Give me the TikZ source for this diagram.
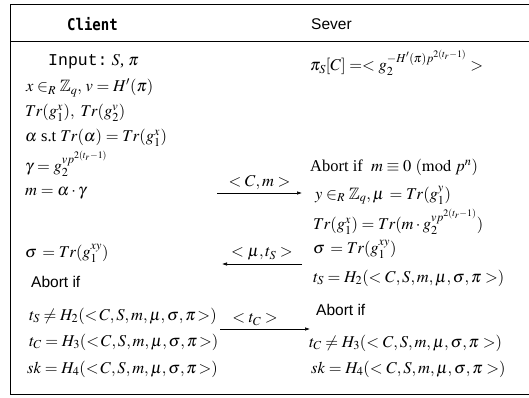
\documentclass[tikz,border=0pt]{standalone}
\usepackage{amssymb}
\usepackage{mathptmx}
\usepackage[no-math]{fontspec}
\setmainfont{Liberation Serif}
\setsansfont{Liberation Sans}
\setmonofont{Liberation Mono}
\newfontfamily\hdrmono{DejaVu Sans Mono}
\usetikzlibrary{arrows.meta}
\begin{document}
\begin{tikzpicture}[x=1pt,y=-1pt,
  txt/.style={anchor=west,inner sep=0pt,font=\fontsize{16.5}{18}\selectfont},
  sans/.style={anchor=west,inner sep=0pt,font=\fontsize{15.5}{18}\sffamily},
  frame/.style={line width=0.8pt},
  msg/.style={line width=0.6pt,-{Latex[length=5pt,width=3.5pt]}},
  lab/.style={anchor=south,inner sep=3pt,font=\fontsize{16.5}{18}\selectfont}]
\useasboundingbox (0,0) rectangle (529,397);
% frame
\draw[frame] (10,4) -- (529,4);
\draw[frame] (10,41) -- (529,41);
\draw[frame] (10,394) -- (529,394);
\draw[frame] (10,4) -- (10,394);
% headers
\node[anchor=west,inner sep=0pt,font=\fontsize{14}{16}\hdrmono\bfseries] (client) at (67,24) {\scalebox{1}[1.15]{Client}};
\node[sans] (server) at (311,24) {Sever};
% client column
\node[txt] (c1) at (48,62) {\ttfamily Input:\rmfamily\ $S$, $\pi$};
\node[txt] (c2) at (26,88) {$x\in_R \mathbb{Z}_q,\, v=H'(\pi)$};
\node[txt] (c3) at (25,113) {$Tr(g_1^{x}),\ Tr(g_2^{v})$};
\node[txt] (c4) at (25,138) {$\alpha$ s.t $Tr(\alpha)=Tr(g_1^{x})$};
\node[txt] (c5) at (25,164) {$\gamma=g_2^{vp^{\scriptscriptstyle 2(t_r-1)}}$};
\node[txt] (c6) at (25,193) {$m=\alpha\cdot\gamma$};
\node[txt] (c7) at (25,253) {$\sigma\,=Tr(g_1^{xy})$};
\node[sans] (c8) at (31,282) {Abort if};
\node[txt] (c9) at (29,316) {$t_S\neq H_2(<\!C,S,m,\mu,\sigma,\pi\!>)$};
\node[txt] (c10) at (29,342) {$t_C=H_3(<\!C,S,m,\mu,\sigma,\pi\!>)$};
\node[txt] (c11) at (27,369) {$sk=H_4(<\!C,S,m,\mu,\sigma,\pi\!>)$};
% server column
\node[txt] (s1) at (310,63) {$\pi_S[C]=<g_2^{-H'(\pi)p^{\scriptscriptstyle 2(t_r-1)}}>$};
\node[txt] (s2) at (310,167) {Abort if \ $m\equiv 0\ (\mathrm{mod}\ p^{n})$};
\node[txt] (s3) at (315,195) {$y\in_R \mathbb{Z}_q,\mu\,=Tr(g_1^{y})$};
\node[txt] (s4) at (313,222) {$Tr(g_1^{x})=Tr(m\cdot g_2^{vp^{\scriptscriptstyle 2(t_r-1)}})$};
\node[txt] (s5) at (313,249) {$\sigma\,=Tr(g_1^{xy})$};
\node[txt] (s6) at (313,278) {$t_S=H_2(<C,S,m,\mu,\sigma,\pi>)$};
\node[sans] (s7) at (316,310) {Abort if};
\node[txt] (s8) at (309,343) {$t_C\neq H_3(<C,S,m,\mu,\sigma,\pi>)$};
\node[txt] (s9) at (311,369) {$sk=H_4(<C,S,m,\mu,\sigma,\pi>)$};
% messages
\coordinate (a1s) at (217,193); \coordinate (a1e) at (302,193);
\coordinate (a2s) at (302,264); \coordinate (a2e) at (222,264);
\coordinate (a3s) at (220,329); \coordinate (a3e) at (310,329);
\draw[msg] (a1s) -- node[lab] (l1) {$<C,m>$} (a1e);
\draw[msg] (a2s) -- node[lab] (l2) {$<\mu,t_S>$} (a2e);
\draw[msg] (a3s) -- node[lab,xshift=-10pt] (l3) {$<t_C>$} (a3e);
\end{tikzpicture}
\end{document}
